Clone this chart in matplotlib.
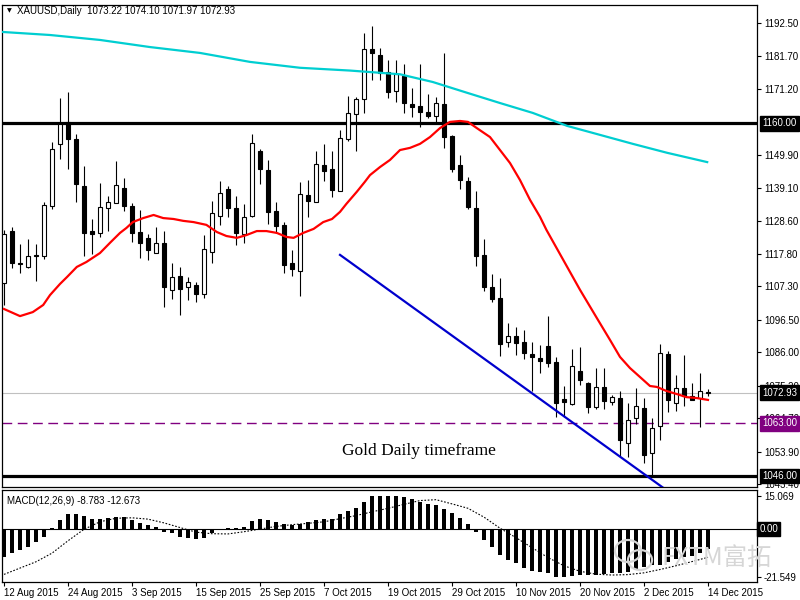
import matplotlib
matplotlib.use("Agg")
import matplotlib.pyplot as plt
import numpy as np
from matplotlib.transforms import blended_transform_factory
from matplotlib.patches import Ellipse

# ---------------- data ----------------
opens = [1108.4, 1125.3, 1114.8, 1113.6, 1117.4, 1117.2, 1133.3, 1153.4, 1160.5, 1155.0,
         1139.8, 1125.2, 1124.6, 1132.7, 1134.3, 1139.1, 1133.3, 1124.9, 1123.0, 1118.1,
         1121.4, 1106.2, 1110.7, 1107.1, 1107.8, 1104.9, 1118.4, 1130.1, 1138.8, 1132.7,
         1124.3, 1130.1, 1151.1, 1144.9, 1131.7, 1127.2, 1114.9, 1112.3, 1136.9, 1134.6,
         1146.6, 1145.3, 1138.2, 1155.0, 1163.1, 1167.9, 1184.1, 1182.2, 1176.7, 1170.5,
         1175.4, 1166.3, 1165.7, 1163.7, 1162.4, 1166.3, 1155.9, 1146.6, 1141.4, 1132.7,
         1117.5, 1107.1, 1103.6, 1089.3, 1091.3, 1089.3, 1085.5, 1084.2, 1088.0, 1082.9,
         1070.9, 1069.3, 1080.0, 1076.1, 1068.3, 1074.8, 1069.9, 1071.2, 1056.7, 1064.7,
         1068.0, 1053.4, 1062.2, 1085.5, 1069.6, 1074.4, 1071.9, 1071.2, 1073.22]
highs = [1125.6, 1126.5, 1121.0, 1122.6, 1121.0, 1134.6, 1154.0, 1168.2, 1170.2, 1156.6,
         1146.3, 1129.1, 1140.8, 1136.6, 1147.9, 1142.4, 1134.3, 1132.0, 1124.3, 1126.5,
         1125.2, 1114.9, 1113.6, 1110.4, 1108.7, 1124.0, 1134.9, 1141.4, 1139.8, 1136.6,
         1133.9, 1156.6, 1151.8, 1148.2, 1134.6, 1128.1, 1119.1, 1141.1, 1141.7, 1151.1,
         1153.4, 1151.1, 1157.9, 1168.9, 1168.6, 1189.3, 1191.5, 1184.4, 1180.5, 1180.5,
         1179.2, 1171.5, 1179.2, 1169.5, 1168.6, 1182.8, 1156.3, 1149.8, 1142.7, 1138.2,
         1122.6, 1111.3, 1110.0, 1095.5, 1094.2, 1093.2, 1089.3, 1088.4, 1097.7, 1084.5,
         1075.1, 1087.1, 1087.7, 1076.4, 1080.9, 1080.9, 1072.2, 1073.5, 1069.6, 1074.4,
         1071.2, 1064.7, 1088.7, 1086.4, 1078.7, 1085.1, 1076.1, 1079.3, 1074.10]
lows = [1101.3, 1113.3, 1111.7, 1113.3, 1109.1, 1116.2, 1132.3, 1148.5, 1145.3, 1134.6,
        1117.2, 1117.8, 1123.3, 1125.2, 1134.3, 1131.7, 1121.7, 1116.5, 1115.9, 1118.1,
        1100.6, 1103.2, 1098.1, 1102.9, 1102.3, 1103.6, 1114.9, 1127.2, 1129.8, 1120.7,
        1121.4, 1129.8, 1140.4, 1127.5, 1124.6, 1111.7, 1110.7, 1104.2, 1129.8, 1134.6,
        1141.4, 1136.2, 1138.2, 1154.3, 1151.1, 1163.4, 1174.1, 1174.1, 1168.2, 1167.0,
        1163.4, 1162.1, 1158.9, 1161.8, 1160.5, 1152.1, 1144.3, 1138.8, 1132.3, 1113.9,
        1105.8, 1102.3, 1084.8, 1087.7, 1085.1, 1083.8, 1073.5, 1079.3, 1081.2, 1065.1,
        1065.1, 1068.9, 1075.4, 1066.4, 1067.7, 1067.7, 1068.9, 1052.5, 1052.1, 1062.8,
        1050.2, 1045.7, 1057.6, 1066.7, 1067.0, 1068.6, 1070.6, 1061.8, 1071.97]
closes = [1124.3, 1114.9, 1114.5, 1117.2, 1117.0, 1133.6, 1151.7, 1159.8, 1155.0, 1140.4,
          1124.6, 1124.3, 1133.0, 1134.6, 1140.1, 1133.3, 1124.6, 1121.4, 1119.1, 1121.4,
          1107.1, 1110.4, 1106.5, 1108.7, 1104.9, 1119.4, 1131.1, 1137.5, 1132.7, 1124.6,
          1129.8, 1153.7, 1145.3, 1131.4, 1126.8, 1114.2, 1112.9, 1137.2, 1134.9, 1146.9,
          1144.6, 1138.5, 1155.3, 1163.4, 1167.9, 1184.1, 1182.8, 1176.3, 1170.2, 1176.0,
          1166.6, 1165.3, 1163.7, 1162.4, 1166.6, 1155.6, 1145.3, 1141.7, 1133.0, 1117.2,
          1107.1, 1103.2, 1088.7, 1091.3, 1089.0, 1085.8, 1084.5, 1083.2, 1082.5, 1069.6,
          1069.9, 1081.6, 1077.0, 1068.3, 1074.8, 1070.3, 1071.5, 1057.6, 1064.1, 1068.6,
          1052.8, 1061.5, 1085.8, 1070.6, 1074.4, 1071.9, 1070.6, 1073.5, 1072.93]

red_ma_bars = [0, 2, 3.6, 4.9, 5.75, 7, 7.9, 9.1, 10.3, 12, 13.25, 14.5, 15.3, 16.1, 17.4,
               18.7, 19.9, 21.2, 22.4, 23.7, 25.3, 26.6, 27.8, 29.1, 30.3, 31.6, 32.8, 34.1,
               35.3, 36.2, 37.4, 38.7, 39.9, 41.0, 42, 42.8, 44.1, 45.1, 45.75, 47, 48.25,
               49.5, 50.75, 52, 53.25, 54.5, 55.75, 57, 58, 59.1, 60.75, 62, 63.25, 64.5,
               65.75, 67, 67.8, 69.9, 72, 74.1, 75.75, 77, 78.25, 79.5, 80.75, 81.6, 82.8,
               84.1, 85.3, 86.6, 88]
red_ma = [1100.0, 1097.7, 1099.0, 1101.3, 1104.5, 1108.1, 1110.4, 1113.6, 1115.2, 1118.1,
          1121.4, 1124.6, 1126.2, 1128.1, 1129.4, 1130.4, 1129.4, 1129.1, 1128.5, 1128.1,
          1127.2, 1124.9, 1123.6, 1123.0, 1123.9, 1125.2, 1125.2, 1124.6, 1123.3, 1123.0,
          1124.6, 1125.9, 1128.1, 1129.1, 1131.4, 1134.0, 1137.9, 1141.1, 1143.3, 1145.9,
          1148.2, 1151.4, 1152.1, 1153.4, 1155.6, 1158.5, 1160.5, 1160.8, 1160.5, 1158.5,
          1155.6, 1151.4, 1147.2, 1141.7, 1135.3, 1129.8, 1125.6, 1115.9, 1106.2, 1097.1,
          1090.0, 1084.5, 1080.9, 1078.0, 1075.1, 1074.8, 1073.5, 1072.5, 1071.5, 1071.2,
          1070.6]

cyan_ma_bars = [-0.3, 5.75, 12, 18.25, 24.5, 30.75, 37, 43.25, 49.5, 53.6, 57.9, 62, 66.1,
                70.4, 74.5, 78.6, 82.9, 87.9]
cyan_ma = [1189.6, 1188.6, 1187.0, 1184.7, 1182.8, 1179.9, 1178.0, 1177.1, 1175.9, 1173.4,
           1169.9, 1166.6, 1163.4, 1159.2, 1156.3, 1153.4, 1150.5, 1147.5]

trend_bars = [42, 82.5]
trend_prices = [1117.5, 1042.0]

macd = [-12.7, -10.9, -9.4, -7.9, -5.9, -3.6, 0.7, 4.2, 6.8, 6.9,
        6.0, 4.5, 4.7, 5.0, 5.4, 5.4, 4.2, 3.0, 1.9, 0.9,
        -1.1, -1.8, -3.3, -4.1, -4.5, -4.1, -1.8, -0.3, 0.5, 0.5,
        0.9, 3.8, 4.8, 4.2, 3.3, 2.5, 1.9, 2.4, 3.4, 4.2,
        4.7, 4.5, 6.8, 8.3, 9.8, 12.5, 14.9, 15.069, 15.0, 14.9,
        14.8, 13.7, 12.5, 11.4, 11.0, 9.2, 7.2, 5.2, 2.4, -1.1,
        -4.8, -7.9, -11.6, -13.9, -15.4, -17.4, -18.7, -19.5, -19.9, -21.549,
        -21.5, -21.1, -20.7, -20.7, -20.7, -20.2, -19.9, -19.9, -19.2, -18.4,
        -17.2, -16.2, -16.2, -14.7, -13.4, -12.4, -12.1, -10.6, -8.783]

signal_bars = [0, 4, 6, 8, 10, 12, 14, 16, 18, 20, 22, 24, 26, 28, 30, 32, 34, 36, 38, 40,
               42, 44, 46, 48, 50, 52, 54, 56, 58, 60, 62, 64, 66, 68, 70, 72, 74, 76, 78,
               80, 82, 84, 86, 88]
signal = [-20.4, -14.7, -10.8, -5.2, 0.0, 3.4, 5.0, 5.2, 4.6, 2.9, 0.8, -1.3, -2.0, -2.1,
          -1.1, 0.1, 1.3, 2.1, 2.7, 3.4, 4.8, 6.2, 7.9, 9.5, 11.3, 13.0, 13.4, 11.5, 9.5,
          5.5, 0.5, -3.8, -8.3, -12.8, -16.5, -19.0, -20.3, -20.7, -20.5, -19.7, -18.2,
          -16.5, -14.6, -12.673]

date_tick_bars = [0, 8, 16, 24, 32, 40, 48, 56, 64, 72, 80, 88]
date_labels = ['12 Aug 2015', '24 Aug 2015', '3 Sep 2015', '15 Sep 2015', '25 Sep 2015',
               '7 Oct 2015', '19 Oct 2015', '29 Oct 2015', '10 Nov 2015', '20 Nov 2015',
               '2 Dec 2015', '14 Dec 2015']
price_ticks = [1192.50, 1181.70, 1171.20, 1149.90, 1139.10, 1128.60, 1117.80, 1107.30,
               1096.50, 1086.00, 1075.20, 1064.70, 1053.90, 1043.40]
macd_ticks = [15.069, -21.549]

level_hi = 1160.00
level_lo = 1046.00
level_mid = 1063.00
last_price = 1072.93

# ---------------- figure ----------------
FONT = 'Liberation Sans'
plt.rcParams['font.family'] = [FONT, 'DejaVu Sans']
fig = plt.figure(figsize=(8, 6), dpi=100)
ax = fig.add_axes([2/800, 1-487/600, 755/800, 482/600])
axm = fig.add_axes([2/800, 1-581.5/600, 755/800, 91.5/600])

xlim = (-0.25, 94.125)
for a in (ax, axm):
    a.set_xlim(*xlim)
    for s in a.spines.values():
        s.set_linewidth(0.9)
        s.set_color('black')

ax.set_ylim(1042.44, 1198.3)
axm.set_ylim(-23.62, 17.78)

x = np.arange(len(opens))
o = np.array(opens); c = np.array(closes); h = np.array(highs); l = np.array(lows)

# horizontal levels
ax.axhline(level_hi, color='black', lw=2.3, zorder=2)
ax.axhline(level_lo, color='black', lw=2.3, zorder=2)
ax.axhline(level_mid, color='#800080', lw=1.0, dashes=(7, 4), zorder=2)
ax.axhline(last_price, color='#C0C0C0', lw=0.8, zorder=1)

# candles
ax.vlines(x, l, h, color='black', lw=0.8, zorder=3)
bottoms = np.minimum(o, c)
heights = np.maximum(np.abs(c - o), 0.15)
fills = ['white' if cc >= oo else 'black' for oo, cc in zip(o, c)]
ax.bar(x, heights, bottom=bottoms, width=0.58, color=fills, edgecolor='black',
       linewidth=0.8, zorder=4)

# moving averages & trend line
ax.plot(cyan_ma_bars, cyan_ma, color='#00CED1', lw=1.6, zorder=5)
ax.plot(red_ma_bars, red_ma, color='#FF0000', lw=1.6, zorder=5)
ax.plot(trend_bars, trend_prices, color='#0000CD', lw=1.6, zorder=5)

ax.text(51.9, 1054.1, 'Gold Daily timeframe', family='Liberation Serif', fontsize=12.5,
        ha='center', va='center', color='black', zorder=6)

# right price axis
ax.yaxis.tick_right()
ax.set_yticks(price_ticks)
ax.set_yticklabels([f'{v:.2f}' for v in price_ticks])
ax.tick_params(axis='y', direction='out', length=3, width=0.8, labelsize=7, pad=2)
ax.set_xticks([])

tr = blended_transform_factory(ax.transAxes, ax.transData)
for val, col in [(level_hi, 'black'), (last_price, 'black'), (level_mid, '#800080'),
                 (level_lo, 'black')]:
    ax.text(1.0066, val, f'{val:.2f}', transform=tr, ha='left', va='center', fontsize=7,
            color='white', clip_on=False, zorder=10,
            bbox=dict(boxstyle='square,pad=0.25', facecolor=col, edgecolor=col))

# title
fig.text(7/800, 1-11/600, '\u25BC', family='DejaVu Sans', fontsize=4.5, va='center',
         ha='left', color='black')
fig.text(17/800, 1-11/600, 'XAUUSD,Daily  1073.22 1074.10 1071.97 1072.93', fontsize=7,
         va='center', ha='left', color='black')

# MACD panel
axm.bar(x, macd, width=0.4, color='black', zorder=3)
axm.plot(signal_bars, signal, color='black', lw=0.8, linestyle=(0, (1.5, 1.5)), zorder=4)
axm.axhline(0, color='black', lw=0.8, zorder=2)
axm.yaxis.tick_right()
axm.set_yticks(macd_ticks)
axm.set_yticklabels(['15.069', '-21.549'])
axm.tick_params(axis='y', direction='out', length=3, width=0.8, labelsize=7, pad=2)
trm = blended_transform_factory(axm.transAxes, axm.transData)
axm.text(1.003, 0, '0.00', transform=trm, ha='left', va='center', fontsize=7,
         color='white', clip_on=False, zorder=10,
         bbox=dict(boxstyle='square,pad=0.2', facecolor='black', edgecolor='black'))
axm.text(0.007, 0.93, 'MACD(12,26,9) -8.783 -12.673', transform=axm.transAxes,
         fontsize=7, va='top', ha='left', color='black')

axm.set_xticks(date_tick_bars)
axm.set_xticklabels(date_labels, ha='left')
axm.tick_params(axis='x', direction='out', length=3, width=0.8, labelsize=7, pad=2)

# watermark
fig.text(661/800, 1-558/600, 'FXTM富拓', family=['Noto Sans CJK SC', 'DejaVu Sans'],
         fontsize=17.5, color='#D6D6D6', va='center', ha='left', zorder=20)
fig.patches.append(Ellipse((628/800, 1-551/600), 26/800, 22/600, transform=fig.transFigure,
                           fill=False, edgecolor='#D6D6D6', lw=1.6))
fig.patches.append(Ellipse((640/800, 1-560/600), 24/800, 20/600, transform=fig.transFigure,
                           fill=False, edgecolor='#D6D6D6', lw=1.6))

fig.savefig('out.png', dpi=100)
